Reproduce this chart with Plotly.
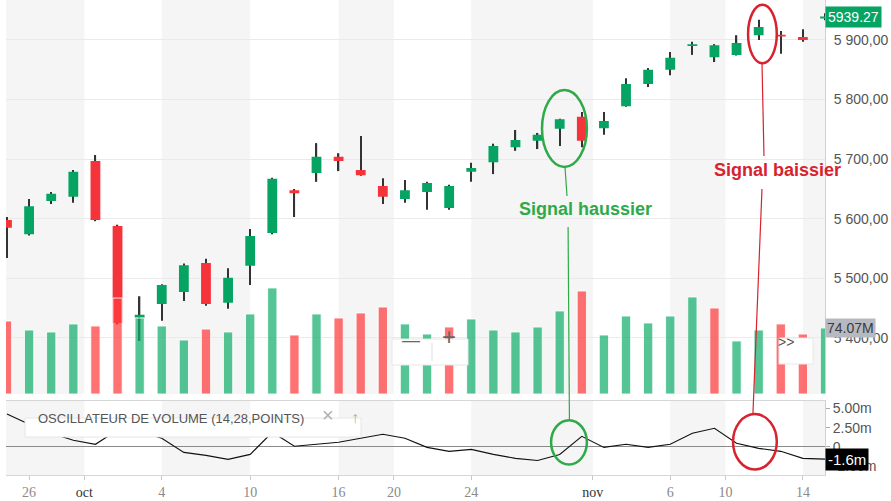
import plotly.graph_objects as go

# ---------------- data ----------------
dates = ["09-25", "09-26", "09-27", "09-30", "10-01", "10-02", "10-03", "10-04",
         "10-07", "10-08", "10-09", "10-10", "10-11", "10-14", "10-15", "10-16",
         "10-17", "10-18", "10-21", "10-22", "10-23", "10-24", "10-25", "10-28",
         "10-29", "10-30", "10-31", "11-01", "11-04", "11-05", "11-06", "11-07",
         "11-08", "11-11", "11-12", "11-13", "11-14", "11-15"]
opens = [5598, 5574, 5630, 5637, 5697, 5588, 5434, 5457, 5477, 5526, 5459, 5521, 5576,
         5648, 5677, 5704, 5682, 5655, 5633, 5645, 5618, 5679, 5695, 5720, 5731, 5751,
         5771, 5752, 5789, 5826, 5850, 5890, 5871, 5875, 5908, 5909, 5905, 5936]
highs = [5603, 5633, 5645, 5682, 5707, 5590, 5470, 5490, 5525, 5533, 5517, 5583, 5669,
         5650, 5727, 5710, 5739, 5668, 5665, 5662, 5657, 5694, 5726, 5749, 5744, 5768,
         5779, 5779, 5836, 5853, 5880, 5897, 5893, 5908, 5934, 5915, 5918, 5945]
lows = [5534, 5572, 5625, 5627, 5596, 5423, 5395, 5429, 5462, 5454, 5449, 5489, 5574,
        5603, 5662, 5680, 5672, 5625, 5627, 5615, 5615, 5662, 5675, 5714, 5717, 5722,
        5720, 5741, 5788, 5821, 5841, 5875, 5863, 5874, 5900, 5877, 5897, 5933]
closes = [5585, 5621, 5642, 5679, 5598, 5425, 5439, 5489, 5522, 5457, 5501, 5571, 5667,
          5643, 5704, 5697, 5673, 5637, 5648, 5660, 5655, 5685, 5722, 5732, 5741, 5767,
          5731, 5764, 5826, 5850, 5870, 5893, 5891, 5895, 5922, 5906, 5900, 5939.27]
volumes_m = [81.9, 71.8, 69.6, 78.6, 76.3, 107.7, 85.3, 76.3, 60.6, 72.9, 69.6, 89.8,
             119.0, 66.2, 89.8, 85.3, 90.9, 97.6, 78.6, 67.3, 75.2, 84.2, 71.8, 69.6,
             75.2, 93.2, 115.6, 66.2, 87.5, 79.7, 87.5, 108.9, 96.5, 59.5, 71.8, 78.6,
             67.3, 74.07]
vol_osc_m = [4.28, 2.96, 1.78, 0.86, 0.33, 2.2, 2.0, 1.12, -0.72, -1.12, -1.64, -0.99,
             1.9, 0.07, 0.33, 0.59, 1.12, 1.64, 1.12, -0.07, -0.59, -0.33, -0.99, -1.51,
             -1.78, -0.99, 1.38, -0.07, 0.33, -0.07, 0.33, 1.78, 2.43, 0.46, -0.2, -0.59,
             -1.51, -1.6]

x_tick_pos = [1, 3.5, 7, 11, 15, 17.5, 21, 26.5, 30, 32.5, 36]
x_tick_text = ["26", "oct", "4", "10", "16", "20", "24", "nov", "6", "10", "14"]
price_ticks = [5400, 5500, 5600, 5700, 5800, 5900]
price_tick_text = ["5 400,00", "5 500,00", "5 600,00", "5 700,00", "5 800,00", "5 900,00"]
osc_ticks = [-2.5, 0, 2.5, 5]
osc_tick_text = ["-2.50m", "0", "2.50m", "5.00m"]
last_price_text = "5939.27"
last_volume_text = "74.07M"
last_osc_text = "-1.6m"
osc_title = "OSCILLATEUR DE VOLUME (14,28,POINTS)"

# ---------------- styling ----------------
GREEN = "#05a463"
RED = "#f5333b"
VOL_GREEN = "rgba(20,175,110,0.72)"
VOL_RED = "rgba(255,60,62,0.72)"
SIG_GREEN = "#2eaa48"
SIG_RED = "#d8222f"
FONT = "Arial, Liberation Sans, sans-serif"

n = len(closes)
xs = list(range(n))
X_RANGE = [-0.045, 37.0]

# pixel helpers for UI decorations (plot area: x 6..825, y 0..475)
def px(xp):
    return (xp - 6) / 819.0

def py(yp):
    return (475 - yp) / 475.0

vol_colors = []
for i in range(n):
    up = closes[i] >= (closes[i - 1] if i > 0 else opens[i])
    vol_colors.append(VOL_GREEN if up else VOL_RED)

wick_len = [h - l for h, l in zip(highs, lows)]

fig = go.Figure()

# wicks (bars are layered beneath candlestick bodies)
fig.add_trace(go.Bar(x=xs, y=wick_len, base=lows, width=0.06,
                     marker=dict(color="#333333", line=dict(width=0)),
                     hoverinfo="skip", xaxis="x", yaxis="y"))
fig.add_trace(go.Candlestick(
    x=xs, open=opens, high=highs, low=lows, close=closes,
    increasing=dict(line=dict(color=GREEN, width=0), fillcolor=GREEN),
    decreasing=dict(line=dict(color=RED, width=0), fillcolor=RED),
    whiskerwidth=0, hoverinfo="skip", xaxis="x", yaxis="y"))
fig.add_trace(go.Bar(x=xs, y=volumes_m, width=0.42,
                     marker=dict(color=vol_colors, line=dict(color="rgba(255,255,255,0.85)", width=1)),
                     hoverinfo="skip", xaxis="x", yaxis="y2"))
fig.add_trace(go.Scatter(x=xs, y=vol_osc_m, mode="lines",
                         line=dict(color="#111111", width=1.1),
                         hoverinfo="skip", xaxis="x", yaxis="y3"))

# ---------------- background bands ----------------
shapes = []
bounds = [X_RANGE[0]] + x_tick_pos[1:] + [X_RANGE[1]]
for k in range(len(bounds) - 1):
    if k % 2 == 0:
        for yr in ["y domain", "y3 domain"]:
            shapes.append(dict(type="rect", xref="x", yref=yr, x0=bounds[k], x1=bounds[k + 1],
                               y0=0, y1=1, fillcolor="#f5f5f5", line=dict(width=0), layer="below"))

# ---------------- signal ellipses & connectors ----------------
shapes += [
    dict(type="circle", xref="x", yref="y", x0=24.2, x1=26.23, y0=5687, y1=5816,
         line=dict(color=SIG_GREEN, width=2.5)),
    dict(type="circle", xref="x", yref="y3", x0=24.61, x1=26.23, y0=-2.3, y1=3.49,
         line=dict(color=SIG_GREEN, width=2.5)),
    dict(type="circle", xref="x", yref="y", x0=33.52, x1=34.82, y0=5861, y1=5959,
         line=dict(color=SIG_RED, width=2.5)),
    dict(type="circle", xref="x", yref="y3", x0=32.84, x1=34.82, y0=-2.96, y1=4.28,
         line=dict(color=SIG_RED, width=2.5)),
    dict(type="line", xref="x", yref="paper", x0=25.24, x1=25.33, y0=py(167), y1=py(196),
         line=dict(color=SIG_GREEN, width=1.2)),
    dict(type="line", xref="x", yref="paper", x0=25.38, x1=25.44, y0=py(227), y1=py(420),
         line=dict(color=SIG_GREEN, width=1.2)),
    dict(type="line", xref="x", yref="paper", x0=34.15, x1=34.24, y0=py(63), y1=py(156),
         line=dict(color=SIG_RED, width=1.2)),
    dict(type="line", xref="x", yref="paper", x0=34.15, x1=33.74, y0=py(189), y1=py(414),
         line=dict(color=SIG_RED, width=1.2)),
]

# ---------------- UI widgets ----------------
shapes += [
    dict(type="rect", xref="paper", yref="paper", x0=px(392), x1=px(468), y0=py(365), y1=py(339),
         fillcolor="white", line=dict(color="#e6e6e6", width=1), layer="above"),
    dict(type="line", xref="paper", yref="paper", x0=px(432), x1=px(432), y0=py(361), y1=py(343),
         line=dict(color="#dddddd", width=1), layer="above"),
    dict(type="rect", xref="paper", yref="paper", x0=px(779), x1=px(813), y0=py(364), y1=py(338),
         fillcolor="white", line=dict(color="#e8e8e8", width=1), layer="above"),
    dict(type="rect", xref="paper", yref="paper", x0=px(25), x1=px(361), y0=py(437), y1=py(418),
         fillcolor="white", line=dict(color="#e6e6e6", width=1), layer="above"),
]

annotations = [
    dict(x=26.15, y=5616, xref="x", yref="y", text="<b>Signal haussier</b>", showarrow=False,
         font=dict(family=FONT, size=18, color=SIG_GREEN)),
    dict(x=34.83, y=5682, xref="x", yref="y", text="<b>Signal baissier</b>", showarrow=False,
         font=dict(family=FONT, size=18, color=SIG_RED)),
    dict(x=1, y=closes[-1], xref="paper", yref="y", xanchor="left", text=last_price_text,
         showarrow=False, bgcolor=GREEN, borderpad=2, font=dict(family=FONT, size=14, color="white")),
    dict(x=1, y=volumes_m[-1], xref="paper", yref="y2", xanchor="left", text=last_volume_text,
         showarrow=False, bgcolor="#b6b9c0", borderpad=1, font=dict(family=FONT, size=14, color="#3a3a3a")),
    dict(x=1, y=vol_osc_m[-1], xref="paper", yref="y3", xanchor="left", text=last_osc_text,
         showarrow=False, bgcolor="black", borderpad=2, font=dict(family=FONT, size=15, color="white")),
    dict(x=px(411), y=py(352), xref="paper", yref="paper", text="\u2014", showarrow=False,
         font=dict(family=FONT, size=18, color="#666666")),
    dict(x=px(449), y=py(352), xref="paper", yref="paper", text="+", showarrow=False,
         font=dict(family=FONT, size=24, color="#666666")),
    dict(x=px(796), y=py(352), xref="paper", yref="paper", text="&gt;&gt;", showarrow=False,
         font=dict(family=FONT, size=14, color="#555555")),
    dict(x=px(36), y=py(428), xref="paper", yref="paper", xanchor="left", text=osc_title,
         showarrow=False, font=dict(family=FONT, size=13, color="#555555")),
    dict(x=px(328), y=py(428), xref="paper", yref="paper", text="\u00d7", showarrow=False,
         font=dict(family=FONT, size=20, color="#b0b0b0")),
    dict(x=px(355), y=py(428), xref="paper", yref="paper", text="\u2191", showarrow=False,
         font=dict(family=FONT, size=16, color="#b0b0b0")),
]

styled_x_ticks = [
    t if t.isdigit() else "<span style='color:#333333'>" + t + "</span>" for t in x_tick_text
]

fig.update_layout(
    width=891, height=501,
    margin=dict(l=6, r=66, t=0, b=26),
    paper_bgcolor="white", plot_bgcolor="white",
    showlegend=False, boxgap=0.367, hovermode=False, barmode="overlay",
    font=dict(family=FONT),
    xaxis=dict(range=X_RANGE, anchor="y3", tickmode="array", tickvals=x_tick_pos,
               ticktext=styled_x_ticks, showgrid=False, zeroline=False,
               showline=True, linecolor="#d6d6d6", mirror=True,
               ticks="outside", ticklen=4, tickcolor="#c8c8c8",
               tickfont=dict(family="Liberation Serif, serif", size=14, color="#8a8a8a"),
               rangeslider=dict(visible=False), fixedrange=True),
    yaxis=dict(domain=[py(394), 1], side="right", anchor="x", range=[5306, 5967.1],
               tickmode="array", tickvals=price_ticks, ticktext=price_tick_text,
               showgrid=True, gridcolor="#eaeaea", gridwidth=1, zeroline=False,
               showline=True, linecolor="#d0d0d0", ticks="", ticklabelstandoff=5,
               tickfont=dict(family=FONT, size=14, color="#555555")),
    yaxis2=dict(overlaying="y", range=[0, 442.2], visible=False, showgrid=False, zeroline=False),
    yaxis3=dict(domain=[0, py(401)], side="right", anchor="x", range=[-3.68, 5.99],
                tickmode="array", tickvals=osc_ticks, ticktext=osc_tick_text,
                showgrid=False, zeroline=True, zerolinecolor="#8a8a8a", zerolinewidth=1,
                showline=True, linecolor="#d0d0d0", ticks="outside", ticklen=4, tickcolor="#aaaaaa",
                tickfont=dict(family=FONT, size=14, color="#555555")),
    shapes=shapes,
    annotations=annotations,
)

fig.write_html("out.html")
